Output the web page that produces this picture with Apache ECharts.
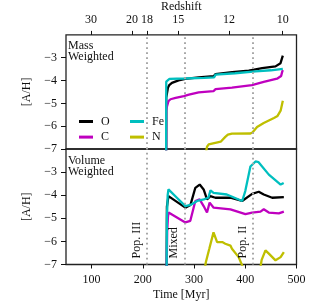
<!DOCTYPE html>
<html><head><meta charset="utf-8">
<script src="https://cdn.jsdelivr.net/npm/echarts@6/dist/echarts.min.js"></script>
<style>html,body{margin:0;padding:0;background:#fff}#c{width:330px;height:303px}</style>
</head><body><div id="c"></div>
<script>
// Axis / annotation data
const redshiftLabels = ['30', '20', '18', '15', '12', '10'];
const redshiftTimes = [99, 179, 208, 269, 368, 473];
const timeTicks = [100, 200, 300, 400, 500];
const yTicks = [-7, -6, -5, -4, -3];
const popTimes = [208, 281, 414];
const popLabels = ['Pop. III', 'Mixed', 'Pop. II'];
const elements = ['O', 'C', 'Fe', 'N'];

// Mass weighted [time Myr, A/H]
const massO = [[245.6,-7.2],[245.7,-4.75],[249,-4.32],[251.6,-4.2],[256.8,-4.1],[269.8,-3.99],[282.9,-3.93],[308.9,-3.86],[338.3,-3.81],[341.6,-3.72],[374.3,-3.63],[406.8,-3.57],[433,-3.46],[459,-3.38],[468.8,-3.24],[473.3,-2.91]];
const massC = [[245.6,-7.2],[245.8,-5.3],[247,-5.15],[250,-4.9],[254,-4.82],[264,-4.76],[280,-4.68],[290,-4.62],[309,-4.52],[338,-4.46],[342,-4.38],[374,-4.31],[413,-4.2],[436,-4.06],[462,-3.92],[470,-3.8],[472,-3.62],[473.3,-3.54]];
const massFe = [[245.5,-7.2],[245.7,-4.05],[248,-3.97],[252,-3.93],[280,-3.91],[320,-3.88],[339,-3.86],[342,-3.74],[380,-3.68],[420,-3.6],[450,-3.55],[473.3,-3.49]];
const massN = [[323,-7.2],[325.3,-6.9],[328.5,-6.8],[332,-6.8],[348,-6.7],[352,-6.68],[361,-6.47],[366,-6.37],[374,-6.33],[410,-6.32],[414,-6.28],[423,-6.04],[436,-5.86],[456,-5.64],[463,-5.55],[469,-5.32],[473.3,-4.89]];

// Volume weighted [time Myr, A/H]
const volO = [[246.5,-7.2],[247,-4.5],[250,-4.04],[283,-4.54],[293,-4.42],[302.5,-3.68],[311,-3.54],[318.7,-3.75],[325.3,-4.18],[331.8,-4.04],[341.6,-4.11],[371,-4.11],[393.8,-4.25],[413.4,-3.94],[426.3,-3.85],[436.1,-3.97],[452.5,-4.11],[475.3,-4.08]];
const volC = [[246.5,-7.2],[247.5,-5.6],[249,-4.95],[250.2,-4.75],[283,-5.18],[292.7,-5.11],[302.5,-4.25],[310.9,-4.18],[318.7,-4.47],[325.3,-4.75],[330.4,-4.32],[338.3,-4.54],[371,-4.61],[400.3,-4.82],[413.4,-4.75],[429.7,-4.71],[436.1,-4.61],[445.9,-4.75],[465.5,-4.79],[475.3,-4.71]];
const volFe = [[246.5,-7.2],[247,-5],[248.5,-4],[250,-3.75],[266,-4.1],[283,-4.47],[293,-4.42],[306,-4.25],[319,-4.18],[328,-4.11],[332,-3.79],[338,-3.9],[364,-3.97],[394,-4.25],[400,-3.82],[410,-2.76],[420,-2.54],[426,-2.57],[446,-3.11],[469,-3.54],[472,-3.58],[475,-3.47]];
const volN = [[321,-7.2],[323,-6.9],[330,-6.3],[338,-5.61],[345,-6.03],[355,-6.03],[361,-6.1],[371,-6.18],[374,-6.32],[387,-6.68],[397,-7.2],[413,'-'],[429,-7.2],[432,-6.8],[439.4,-6.39],[446,-6.53],[459,-6.82],[469,-6.68],[475.3,-6.46]];

const colors = {O:'#000000', C:'#bf00bf', Fe:'#00bfbf', N:'#bfbf00'};
const FONT = 'Liberation Serif';
const txt = {fontFamily: FONT, fontSize: 12, color: '#111'};

function yAxis(gi) {
  return {
    gridIndex: gi, type: 'value', min: -7, max: -2,
    axisLine: {show: false},
    axisTick: {show: true, customValues: yTicks, length: 5, lineStyle: {color: '#111', width: 1}},
    axisLabel: Object.assign({customValues: yTicks, margin: 9, formatter: v => '\u2212' + Math.abs(v)}, txt),
    splitLine: {show: false},
    name: '[A/H]', nameLocation: 'middle', nameGap: 29, nameTextStyle: txt
  };
}

function dotted(gi, withLabels) {
  return {
    symbol: 'none', silent: true, animation: false,
    lineStyle: {color: '#a8a8a8', type: [1.8, 3.2], width: 2},
    label: withLabels ? Object.assign({show: true, position: 'insideStartTop', distance: [6, 4]}, txt) : {show: false},
    emphasis: {disabled: true},
    data: popTimes.map((t, i) => ({xAxis: t, label: withLabels ? {formatter: popLabels[i]} : undefined}))
  };
}

function line(name, data, gi, ml) {
  const s = {
    name, type: 'line', data, xAxisIndex: gi, yAxisIndex: gi,
    showSymbol: false, symbol: 'none', clip: true, animation: false,
    lineStyle: {color: colors[name], width: 2.3}, itemStyle: {color: colors[name]},
    connectNulls: false
  };
  if (ml) s.markLine = ml;
  return s;
}

const chart = echarts.init(document.getElementById('c'), null, {renderer: 'canvas'});
chart.setOption({
  backgroundColor: '#fff',
  animation: false,
  grid: [
    {left: 66, width: 230.5, top: 33, height: 116, show: true, borderColor: '#222', borderWidth: 1.3, backgroundColor: 'transparent'},
    {left: 66, width: 230.5, top: 149, height: 115.5, show: true, borderColor: '#222', borderWidth: 1.3, backgroundColor: 'transparent'}
  ],
  xAxis: [
    {gridIndex: 0, type: 'value', position: 'top', min: 50, max: 500,
     axisLine: {show: false},
     axisTick: {show: true, customValues: redshiftTimes, length: 4, lineStyle: {color: '#111'}},
     axisLabel: Object.assign({customValues: redshiftTimes, margin: 9, formatter: v => redshiftLabels[redshiftTimes.indexOf(v)]}, txt),
     splitLine: {show: false},
     name: 'Redshift', nameLocation: 'middle', nameGap: 20, nameTextStyle: txt},
    {gridIndex: 1, type: 'value', position: 'bottom', min: 50, max: 500,
     axisLine: {show: false},
     axisTick: {show: true, customValues: timeTicks, length: 4, lineStyle: {color: '#111'}},
     axisLabel: Object.assign({customValues: timeTicks, margin: 9}, txt),
     splitLine: {show: false},
     name: 'Time [Myr]', nameLocation: 'middle', nameGap: 24, nameTextStyle: txt}
  ],
  yAxis: [yAxis(0), yAxis(1)],
  legend: [
    {data: ['O', 'C'], orient: 'vertical', left: 74, top: 110.5, itemWidth: 14, itemHeight: 3, icon: 'rect', itemGap: 3.6,
     textStyle: Object.assign({lineHeight: 12, padding: [0, 0, 0, 3]}, txt), selectedMode: false},
    {data: ['Fe', 'N'], orient: 'vertical', left: 125, top: 110.5, itemWidth: 14, itemHeight: 3, icon: 'rect', itemGap: 3.6,
     textStyle: Object.assign({lineHeight: 12, padding: [0, 0, 0, 3]}, txt), selectedMode: false}
  ],
  graphic: [
    {type: 'text', left: 68, top: 39.5, style: {text: 'Mass\nWeighted', font: '12px "Liberation Serif"', lineHeight: 11.5, fill: '#111'}},
    {type: 'text', left: 68, top: 154.5, style: {text: 'Volume\nWeighted', font: '12px "Liberation Serif"', lineHeight: 11.5, fill: '#111'}}
  ],
  series: [
    line('O', massO, 0, dotted(0, false)),
    line('C', massC, 0),
    line('Fe', massFe, 0),
    line('N', massN, 0),
    line('O', volO, 1, dotted(1, true)),
    line('C', volC, 1),
    line('Fe', volFe, 1),
    line('N', volN, 1)
  ]
});
</script></body></html>
